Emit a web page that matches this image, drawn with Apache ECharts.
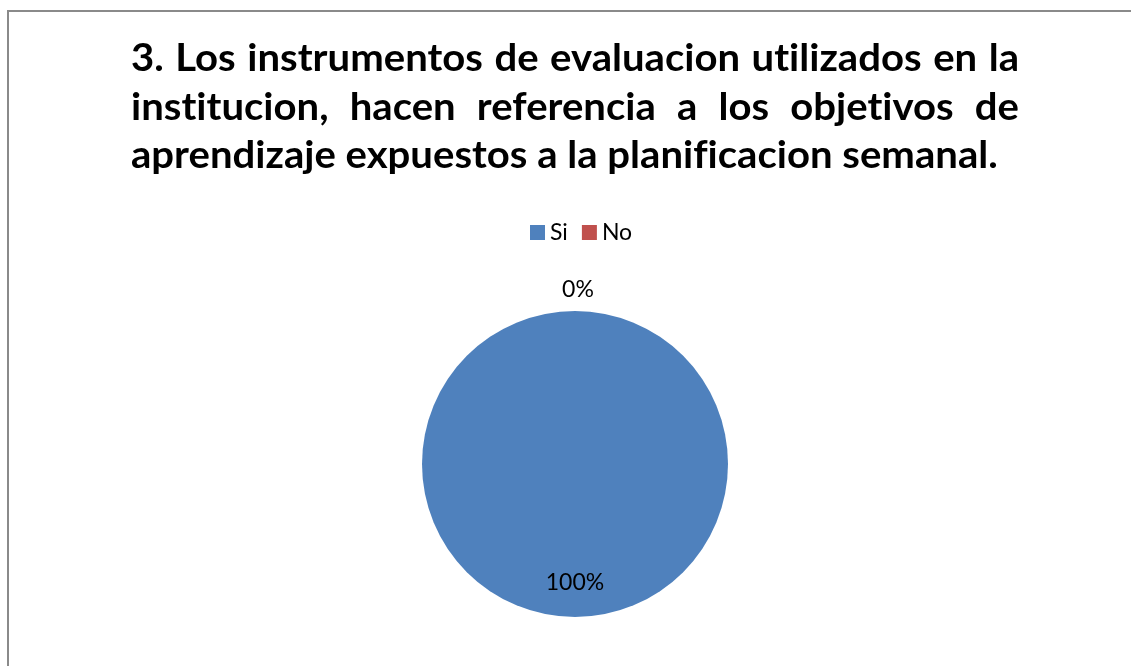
<!DOCTYPE html>
<html>
<head>
<meta charset="utf-8">
<script src="https://cdn.jsdelivr.net/npm/echarts@6/dist/echarts.min.js"></script>
<style>
  html, body { margin: 0; padding: 0; background: #fff; overflow: hidden; }
  #chart { position: absolute; left: 0; top: 0; width: 1131px; height: 666px; }
  #frame { position: absolute; left: 7px; top: 10px; width: 2000px; height: 2000px;
           border: 2px solid #8a8a8a; box-sizing: border-box; pointer-events: none; }
</style>
</head>
<body>
<div id="chart"></div>
<div id="frame"></div>
<script>
// ---- data ----
const titleLines = [
  "3. Los instrumentos de evaluacion utilizados en la",
  "institucion, hacen referencia a los objetivos de",
  "aprendizaje expuestos a la planificacion semanal."
];
const categories = ["Si", "No"];
const values = [100, 0];
const colors = ["#4F81BD", "#C0504D"];

// ---- title layout (justified text, like the original) ----
const FONT_FAMILY = "Lato";
const leftX = 131, rightX = 1019, lastLineRight = 998;
const baselines = [78, 127, 175];
const capHeight = 27;
const ctx = document.createElement("canvas").getContext("2d");
function noLig(t) { return t.replace(/([tf])([il])/g, "$1\u200C$2"); }
function measure(t, size) { ctx.font = "bold " + size + "px " + FONT_FAMILY; return ctx.measureText(noLig(t)).width; }
let fs = 36;
fs = fs * (lastLineRight - leftX) / measure(titleLines[2], fs);
const sy = capHeight / (0.717 * fs);
const graphics = [];
titleLines.forEach(function (line, li) {
  const words = line.split(" ");
  const widths = words.map(w => measure(w, fs));
  const sum = widths.reduce((a, b) => a + b, 0);
  let gap = measure(" ", fs);
  if (li < titleLines.length - 1) gap = (rightX - leftX - sum) / (words.length - 1);
  let x = leftX;
  words.forEach(function (w, wi) {
    graphics.push({
      type: "text", x: x, y: baselines[li], scaleY: sy,
      style: { text: noLig(w), font: "bold " + fs + "px " + FONT_FAMILY, fill: "#000", verticalAlign: "bottom", align: "left" }
    });
    x += widths[wi] + gap;
  });
});

const chart = echarts.init(document.getElementById("chart"));
chart.setOption({
  animation: false,
  graphic: graphics,
  legend: {
    data: categories,
    left: 525, top: 216,
    itemWidth: 15, itemHeight: 15, itemGap: 14,
    icon: "rect",
    textStyle: { fontFamily: FONT_FAMILY, fontSize: 23, color: "#000" }
  },
  series: [{
    type: "pie",
    center: [575, 464],
    radius: 153,
    startAngle: 90,
    clockwise: true,
    avoidLabelOverlap: false,
    data: categories.map((c, i) => ({
      name: c, value: values[i],
      itemStyle: { color: colors[i] },
      label: { position: i === 0 ? "inside" : "outside" }
    })),
    label: {
      show: true, formatter: "{d}%",
      fontFamily: FONT_FAMILY, fontSize: 23, color: "#000"
    },
    labelLine: { show: false, length: 21, length2: 0 },
    labelLayout: function (p) {
      return p.dataIndex === 0 ? { dy: 39 } : { align: "center", dx: -2 };
    },
    emphasis: { disabled: true }
  }]
});
</script>
</body>
</html>
